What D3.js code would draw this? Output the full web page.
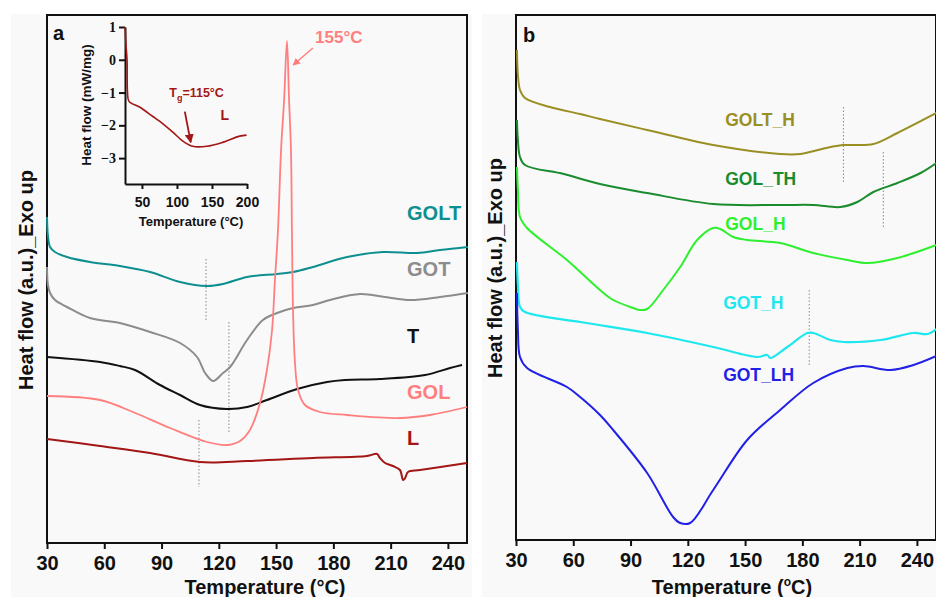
<!DOCTYPE html>
<html>
<head>
<meta charset="utf-8">
<script src="https://cdn.jsdelivr.net/npm/d3@7"></script>
<style>
  body { margin: 0; background: #fff; }
  text { font-family: "Liberation Sans", Arial, sans-serif; font-weight: bold; }
</style>
</head>
<body>
<svg id="chart" width="936" height="597"></svg>
<script>
// ---- panel a : [temperature °C, heat flow a.u.]
const golt = [[30,326],[30.5,307],[31.6,296],[34.2,291],[40.5,286],[52.5,281],[68.2,277],[84,271],[99.7,261],[113.8,257],[122.2,259],[134.8,266],[150.5,269],[158.9,271],[169.3,276],[187.2,286],[206,291],[223.8,290],[235.9,293],[250.5,296]];
const got = [[30,276],[30.5,258],[31.6,250],[34.2,243],[40.5,236],[52.5,225],[68.2,220],[84,211],[99.7,200],[108.6,186],[112.8,170],[117,162],[122.2,170],[125.9,176],[134.8,203],[143.1,223],[150.5,230],[158.9,235],[169.3,238],[178.2,243],[194,249],[207.1,246],[220.2,243],[235.9,246],[250.5,250]];
const tSample = [[30,186],[57.8,181],[68.2,177],[76.1,173],[89.2,158],[99.7,148],[110.1,138],[124.3,134],[134.8,136],[145.2,143],[161,154],[176.7,161],[186.1,163],[204.4,164],[228,168],[241.1,175],[247.4,178]];
const gol = [[30,147],[57.8,143],[75,131],[94.4,115],[113.8,101],[124.3,98],[131.1,102],[136.3,113],[141.6,140],[145.2,173],[147.9,213],[149.4,263],[151,313],[152.6,393],[154.2,443],[155.7,502],[156.8,443],[157.8,393],[158.3,313],[158.9,230],[159.9,180],[161.5,153],[165.1,138],[173,131],[187.2,128],[214.9,125],[230.6,128],[250,136]];
const lSample = [[30,104],[57.8,97],[84,90],[110.1,81],[134.8,82],[169.3,85],[197.6,87],[202.9,89],[204.4,85],[207.1,80],[211.2,77],[214.9,73],[216.5,63],[217.6,65],[219.1,71],[225.4,73],[250,80]];
const dropsA = [[113.3,284,223],[125.3,221,111],[109.6,123,56]];

// ---- inset (sample L): [temperature °C, heat flow mW/mg]
const insetL = [[25.8,1.0],[27.2,0.45],[28.7,0.0],[29.4,-1.0],[31.5,-1.27],[47.2,-1.45],[65.6,-1.73],[75.6,-1.88],[94.1,-2.21],[108.3,-2.48],[122.5,-2.64],[142.5,-2.64],[165.2,-2.52],[189.4,-2.33],[199.4,-2.3]];
const insetXTicks = [50,100,150,200];
const insetYTicks = [1,0,-1,-2,-3];

// ---- panel b
const goltH = [[30.5,490],[31,465],[32.1,450],[34.7,442],[47.8,433],[63.6,426],[74,421],[98.7,410],[133.3,395],[168.4,386],[178.9,386],[194.7,393],[201.5,395],[206.7,395],[217.2,396],[229.8,407],[250.2,427]];
const golTH = [[30.5,420],[31,400],[32.1,383],[34.7,375],[55,366],[74,356],[98.7,347],[133.3,336],[168.4,335],[185.7,335],[199.9,333],[208.8,338],[217.2,348],[229.8,357],[241.9,367],[250.2,377]];
const golH = [[30.5,373],[31,350],[32.1,323],[35.8,312],[56.7,280],[74,250],[80.9,240],[91.4,232],[95,230],[98.7,231],[107.1,250],[116,273],[124.9,300],[133.3,312],[137,311],[143.8,303],[151.1,300],[168.4,297],[185.7,287],[203.6,280],[214.1,277],[229.8,282],[250.2,295]];
const gotH = [[30.5,278],[31,255],[32.1,233],[34.7,228],[63.6,218],[98.7,207],[133.3,193],[156.4,183],[161.6,185],[163.2,182],[172.1,193],[182.6,207],[185.7,207],[194.7,200],[201.5,198],[220.9,200],[238.2,207],[245.5,206],[250.2,211]];
const gotLH = [[30.5,247],[31,210],[32.1,183],[35.8,172],[56.7,153],[63.6,143],[74,125],[80.9,110],[98.7,67],[112.3,23],[116,17],[121.2,17],[133.3,50],[151.1,100],[168.4,130],[185.7,157],[203.6,172],[212,174],[226.1,170],[238.2,175],[250.2,184]];
const dropsB = [[201.5,433,358],[222.4,388,313],[183.6,250,173]];

const tempTicks = [30,60,90,120,150,180,210,240];

const svg = d3.select('#chart');

// backgrounds
svg.append('rect').attr('x',11).attr('y',14).attr('width',461).attr('height',583).attr('fill','#f9f9f9');
svg.append('rect').attr('x',482).attr('y',14).attr('width',454).attr('height',583).attr('fill','#f9f9f9');

const line = (x,y) => d3.line().x(d => x(d[0])).y(d => y(d[1])).curve(d3.curveCatmullRom.alpha(0.5));

const drawPanel = (opt) => {
	const {left, right, top, bottom, ymax, series, drops, labels} = opt;
	const x = d3.scaleLinear().domain([30,250]).range([left, right]);
	const y = d3.scaleLinear().domain([0,ymax]).range([bottom, top]);
	const g = svg.append('g');

	g.append('rect')
		.attr('x',left).attr('y',top)
		.attr('width',right-left).attr('height',bottom-top)
		.attr('fill','none').attr('stroke','#111').attr('stroke-width',2);

	const ax = g.append('g')
		.attr('transform',`translate(0,${bottom})`)
		.call(d3.axisBottom(x).tickValues(tempTicks).tickSize(6).tickSizeOuter(0).tickPadding(7));
	ax.select('.domain').remove();
	ax.selectAll('line').attr('stroke','#111').attr('stroke-width',2);
	ax.selectAll('text').attr('font-size',20).attr('fill','#111')
		.style('font-family','"Liberation Sans", Arial, sans-serif').style('font-weight','bold');

	g.selectAll('.drop').data(drops).enter().append('line')
		.attr('x1',d => x(d[0])).attr('x2',d => x(d[0]))
		.attr('y1',d => y(d[1])).attr('y2',d => y(d[2]))
		.attr('stroke','#888').attr('stroke-width',1).attr('stroke-dasharray','1.5,2');

	series.forEach(s => {
		g.append('path').datum(s.data)
			.attr('d', line(x,y))
			.attr('fill','none').attr('stroke',s.color).attr('stroke-width',s.w || 2);
	});

	labels.forEach(l => {
		g.append('text').attr('x',x(l.t)).attr('y',y(l.v))
			.attr('fill',l.color).attr('font-size',l.size).text(l.text);
	});
	return {x, y, g};
};

// ---- panel a
const A = drawPanel({
	left:47, right:467, top:15, bottom:543, ymax:528,
	drops: dropsA,
	series: [
		{data: golt, color:'#0e8f8f'},
		{data: got, color:'#8c8c8c'},
		{data: tSample, color:'#111111'},
		{data: gol, color:'#ff7f7f', w:1.8},
		{data: lSample, color:'#a31616'}
	],
	labels: [
		{text:'GOLT', t:218.6, v:323, color:'#0e8f8f', size:20},
		{text:'GOT', t:218.6, v:267, color:'#8c8c8c', size:20},
		{text:'T', t:218.6, v:200, color:'#111', size:20},
		{text:'GOL', t:218.6, v:144, color:'#ff7f7f', size:20},
		{text:'L', t:218.6, v:98, color:'#a31616', size:20},
		{text:'155°C', t:170.4, v:500, color:'#ff7f7f', size:17}
	]
});

// arrow to the melting peak
const defs = svg.append('defs');
[['arrPink','#ff7f7f'],['arrRed','#a31616']].forEach(([id,c]) => {
	defs.append('marker').attr('id',id).attr('viewBox','0 0 10 10')
		.attr('refX',9).attr('refY',5).attr('markerWidth',5).attr('markerHeight',5)
		.attr('orient','auto')
		.append('path').attr('d','M0,0L10,5L0,10z').attr('fill',c);
});
A.g.append('line')
	.attr('x1',A.x(169.3)).attr('y1',A.y(495)).attr('x2',A.x(158.9)).attr('y2',A.y(478))
	.attr('stroke','#ff7f7f').attr('stroke-width',1.5).attr('marker-end','url(#arrPink)');

svg.append('text').attr('x',53).attr('y',40).attr('font-size',20).attr('fill','#111').text('a');
svg.append('text').attr('transform','translate(33,280) rotate(-90)')
	.attr('text-anchor','middle').attr('font-size',20).attr('fill','#111').text('Heat flow (a.u.)_Exo up');
svg.append('text').attr('x',265).attr('y',594).attr('text-anchor','middle')
	.attr('font-size',20).attr('fill','#111').text('Temperature (°C)');

// ---- inset
const ix = d3.scaleLinear().domain([25.8,200]).range([125,247]);
const iy = d3.scaleLinear().domain([-3.79,1]).range([184,27]);
const inset = svg.append('g');
const ixa = inset.append('g').attr('transform','translate(0,184)')
	.call(d3.axisBottom(ix).tickValues(insetXTicks).tickSize(5).tickSizeOuter(0).tickPadding(8));
ixa.selectAll('text').attr('font-size',14).attr('fill','#111')
	.style('font-family','"Liberation Sans", Arial, sans-serif').style('font-weight','bold');
const iya = inset.append('g').attr('transform','translate(125,0)')
	.call(d3.axisLeft(iy).tickValues(insetYTicks).tickFormat(d3.format('d')).tickSize(6).tickSizeOuter(0).tickPadding(3));
iya.selectAll('text').attr('font-size',14).attr('fill','#111')
	.style('font-family','"Liberation Serif", "Times New Roman", serif').style('font-weight','bold');
inset.selectAll('.domain, .tick line').attr('stroke','#111').attr('stroke-width',2);

inset.append('path').datum(insetL).attr('d', line(ix,iy))
	.attr('fill','none').attr('stroke','#a31616').attr('stroke-width',1.6);
inset.append('line')
	.attr('x1',ix(111.2)).attr('y1',iy(-1.58)).attr('x2',ix(119.7)).attr('y2',iy(-2.52))
	.attr('stroke','#a31616').attr('stroke-width',1.8).attr('marker-end','url(#arrRed)');

const tg = inset.append('text').attr('x',ix(89)).attr('y',iy(-1.15)).attr('font-size',12.5).attr('fill','#a31616');
tg.append('tspan').text('T');
tg.append('tspan').attr('dy',4).attr('font-size',9).text('g');
tg.append('tspan').attr('dy',-4).text('=115°C');
inset.append('text').attr('x',ix(162)).attr('y',iy(-1.85)).attr('font-size',14).attr('fill','#a31616').text('L');

inset.append('text').attr('x',191).attr('y',226).attr('text-anchor','middle')
	.attr('font-size',13).attr('fill','#111').text('Temperature (°C)');
inset.append('text').attr('transform','translate(91,105) rotate(-90)').attr('text-anchor','middle')
	.attr('font-size',13.5).attr('fill','#111').text('Heat flow (mW/mg)');

// ---- panel b
drawPanel({
	left:516, right:936, top:15, bottom:540, ymax:525,
	drops: dropsB,
	series: [
		{data: goltH, color:'#9a8f22'},
		{data: golTH, color:'#1a8c2e'},
		{data: golH, color:'#2ef02e'},
		{data: gotH, color:'#1ee8ee', w:2.2},
		{data: gotLH, color:'#2121e6'}
	],
	labels: [
		{text:'GOLT_H', t:139.6, v:414, color:'#9a8f22', size:17.5},
		{text:'GOL_TH', t:139.6, v:355, color:'#1a8c2e', size:17.5},
		{text:'GOL_H', t:139.6, v:310, color:'#2ef02e', size:17.5},
		{text:'GOT_H', t:138.5, v:231, color:'#1ee8ee', size:17.5},
		{text:'GOT_LH', t:138.5, v:159, color:'#2121e6', size:17.5}
	]
});

svg.append('text').attr('x',523).attr('y',42).attr('font-size',20).attr('fill','#111').text('b');
svg.append('text').attr('transform','translate(502,268) rotate(-90)')
	.attr('text-anchor','middle').attr('font-size',20).attr('fill','#111').text('Heat flow (a.u.)_Exo up');
const tb = svg.append('text').attr('x',732).attr('y',594).attr('text-anchor','middle')
	.attr('font-size',20).attr('fill','#111');
tb.append('tspan').text('Temperature (');
tb.append('tspan').attr('dy',-8).attr('font-size',12).text('o');
tb.append('tspan').attr('dy',8).text('C)');
</script>
</body>
</html>
